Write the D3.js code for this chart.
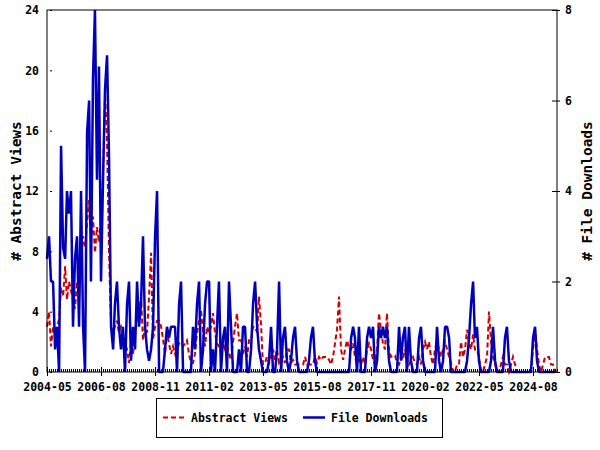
<!DOCTYPE html>
<html>
<head>
<meta charset="utf-8">
<script src="https://cdn.jsdelivr.net/npm/d3@7"></script>
<style>
  body { margin: 0; background: #fff; }
  svg text { font-family: "DejaVu Sans Mono", "Liberation Mono", monospace; font-weight: bold; }
</style>
</head>
<body>
<svg id="chart" width="600" height="450"></svg>
<script>
// monthly series, first month 2004-05
var firstMonth = "2004-05";
var lastMonth = "2025-08";
var tickLabels = ["2004-05", "2006-08", "2008-11", "2011-02", "2013-05",
    "2015-08", "2017-11", "2020-02", "2022-05", "2024-08"];
var leftTicks = [0, 4, 8, 12, 16, 20, 24];
var rightTicks = [0, 2, 4, 6, 8];
var seriesNames = ["Abstract Views", "File Downloads"];

var abstractViews = [
    3, 4, 1.7, 3, 2.5, 3, 3.5, 5.6, 5, 7,
    4.8, 6, 5.4, 4.8, 4.2, 6, 5, 7.5, 9, 8.3,
    9.9, 11.4, 8.8, 10.3, 7.9, 9.6, 8.6, 10, 13.2, 18.5,
    15.2, 7.9, 3, 2.6, 3, 3.4, 2.6, 3, 2.5, 1.9,
    1.5, 0.6, 1.9, 1.2, 2.5, 3.6, 4, 5, 2.1, 3,
    2.6, 5, 7.9, 2.2, 3, 3.4, 3.4, 3, 2.2, 1.2,
    2.6, 1.9, 1.2, 1.7, 1.2, 1.5, 1.9, 1.9, 1.7, 1.9,
    2.1, 1.2, 0.6, 0.6, 1.2, 2.6, 3.4, 4.1, 2.6, 1.7,
    3, 2.6, 3, 3.9, 2.6, 1.9, 1.7, 1.2, 1.9, 1.5,
    1.7, 1.2, 0.8, 2, 3, 3.9, 2.1, 2.1, 1.2, 1.7,
    1, 2.1, 2.1, 3, 3, 2.6, 5, 3.2, 0.5, 0.6,
    1, 0.6, 1, 1.5, 0.8, 1.5, 0.6, 0.8, 1, 0.6,
    1.5, 1.5, 0.6, 0.8, 0.5, 0.5, 0.5, 0.5, 0.5, 1,
    0.5, 0.5, 0.5, 0.5, 1, 0.6, 1, 0.8, 1, 1,
    1, 0.8, 0.5, 1, 1.9, 2.8, 5, 1.5, 0.8, 1.5,
    2.1, 1.5, 1.5, 1.9, 1, 0.5, 0.8, 0.5, 1, 0.5,
    1.5, 1.9, 1.5, 0.8, 0.5, 1.5, 3.9, 2.8, 1.9, 1.5,
    3.9, 1.5, 1, 1.1, 1.1, 0.6, 0.5, 1, 0.8, 1.5,
    1, 0.5, 0.8, 1, 0.6, 0.5, 1, 0.5, 1.5, 2,
    1.5, 2, 1, 0.5, 1.5, 2, 1.5, 1, 1.5, 2,
    1.5, 1, 0.6, 0, 0, 0.5, 0.5, 2, 1, 1.5,
    2.8, 1.9, 1.5, 2.5, 1.5, 1.5, 1, 0, 0, 0.5,
    1, 4, 2, 1, 0.5, 0, 0, 0.5, 1, 0.5,
    0.5, 0, 0.5, 1, 0.5, 0, 0, 0, 0, 0,
    0, 0, 0, 1.5, 2.8, 1.5, 0.5, 0, 0.5, 1,
    1, 1, 0.5, 0.5, 0
];

var fileDownloads = [
    2.5, 3, 2, 2, 0.5, 1, 0, 5, 2.75, 2.5,
    4, 3.5, 4, 1, 2.5, 3, 1, 4, 1, 0,
    5.3, 6, 2, 6.5, 8, 4.25, 6.75, 2, 4.25, 6.25,
    7, 4.75, 1, 0.5, 1.5, 2, 1, 0.5, 1, 0,
    1.5, 2, 0.25, 1, 0.5, 2, 1, 1.5, 3, 1,
    0.5, 0.25, 0.5, 1, 3, 4, 0, 0, 0, 0.5,
    1, 0.75, 1, 1, 1, 0, 1.5, 2, 0, 0,
    0, 0, 0, 1, 0.5, 1.5, 2, 0, 0.5, 1.5,
    2, 2, 0, 0.5, 0, 1, 2, 0, 0.75, 1,
    0, 2, 1, 0, 0, 0, 0.5, 0, 1, 1,
    0, 0, 0.5, 1.5, 2, 1, 0.5, 0.25, 0, 0,
    0, 0.25, 1, 0, 0, 0.5, 2, 0, 0.75, 1,
    0.25, 0, 0.25, 0.75, 1, 0.25, 0, 0, 0, 0,
    0, 0.25, 0.75, 1, 0.25, 0, 0, 0, 0, 0,
    0, 0, 0, 0, 0, 0, 0, 0, 0, 0,
    0, 0, 0.75, 1, 0.75, 0, 1, 0, 0, 0,
    0.75, 1, 0.75, 1, 0, 0.25, 1, 0.75, 1, 0.75,
    1, 0.25, 0, 0, 0, 0, 1, 0.25, 0.75, 1,
    0, 1, 0.25, 0, 0, 0, 0.75, 1, 0.25, 0,
    0, 0, 0, 0, 0, 1, 0.25, 0, 0.25, 1,
    1, 0.75, 0, 0, 0, 0, 0, 0, 0, 0,
    0.25, 0.75, 1.5, 2, 0.75, 1, 0.25, 0, 0, 0,
    0, 0, 0.25, 1, 0.25, 0, 0, 0, 0, 0.75,
    1, 0.25, 0, 0, 0, 0, 0, 0, 0, 0,
    0, 0, 0, 0.75, 1, 0.25, 0, 0, 0, 0,
    0, 0, 0, 0, 0
];

var parseMonth = d3.timeParse("%Y-%m");
var start = parseMonth(firstMonth);

var margin = { top: 10, right: 43, bottom: 78, left: 47 },
    width = 600 - margin.left - margin.right,
    height = 450 - margin.top - margin.bottom;

var svg = d3.select("#chart");
var g = svg.append("g")
    .attr("transform", "translate(" + margin.left + "," + margin.top + ")");

var x = d3.scaleTime()
    .domain([start, parseMonth(lastMonth)])
    .range([0, width]);
var yLeft = d3.scaleLinear().domain([0, 24]).range([height, 0]);
var yRight = d3.scaleLinear().domain([0, 8]).range([height, 0]);

var views = abstractViews.map(function (v, i) { return { date: d3.timeMonth.offset(start, i), value: v }; });
var downloads = fileDownloads.map(function (v, i) { return { date: d3.timeMonth.offset(start, i), value: v }; });

// lines
g.append("path")
    .datum(views)
    .attr("fill", "none")
    .attr("stroke", "#cc0000")
    .attr("stroke-width", 2)
    .attr("stroke-dasharray", "5,3")
    .attr("d", d3.line().x(function (d) { return x(d.date); }).y(function (d) { return yLeft(d.value); }));

g.append("path")
    .datum(downloads)
    .attr("fill", "none")
    .attr("stroke", "#0000bb")
    .attr("stroke-width", 2.5)
    .attr("stroke-linejoin", "bevel")
    .attr("d", d3.line().x(function (d) { return x(d.date); }).y(function (d) { return yRight(d.value); }));

// frame
g.append("rect")
    .attr("width", width).attr("height", height)
    .attr("fill", "none").attr("stroke", "#000").attr("stroke-width", 1);

// left axis
var leftAxis = g.append("g")
    .call(d3.axisLeft(yLeft).tickValues(leftTicks).tickSizeInner(-5).tickSizeOuter(0).tickPadding(8));
leftAxis.selectAll(".tick line").attr("x1", 3);
leftAxis.select(".domain").remove();
leftAxis.selectAll("text").style("font-size", "11.5px").attr("fill", "#000");

// right axis
var rightAxis = g.append("g")
    .attr("transform", "translate(" + width + ",0)")
    .call(d3.axisRight(yRight).tickValues(rightTicks).tickSizeInner(-5).tickSizeOuter(0).tickPadding(8));
rightAxis.selectAll(".tick line").attr("x1", 3);
rightAxis.select(".domain").remove();
rightAxis.selectAll("text").style("font-size", "11.5px").attr("fill", "#000");

// bottom axis: monthly minor ticks, labelled major ticks
var monthTicks = d3.timeMonth.range(start, d3.timeMonth.offset(parseMonth(lastMonth), 1));
var minorAxis = g.append("g")
    .attr("transform", "translate(0," + height + ")")
    .call(d3.axisBottom(x).tickValues(monthTicks).tickSizeInner(-3).tickSizeOuter(0).tickFormat(""));
minorAxis.select(".domain").remove();

var majorAxis = g.append("g")
    .attr("transform", "translate(0," + height + ")")
    .call(d3.axisBottom(x).tickValues(tickLabels.map(parseMonth))
        .tickSizeInner(4).tickSizeOuter(0).tickPadding(7).tickFormat(d3.timeFormat("%Y-%m")));
majorAxis.select(".domain").remove();
majorAxis.selectAll(".tick line").attr("y1", -5);
majorAxis.selectAll("text").style("font-size", "11.5px").attr("fill", "#000");

// axis titles
svg.append("text")
    .attr("transform", "translate(21," + (margin.top + height / 2) + ") rotate(-90)")
    .attr("text-anchor", "middle")
    .style("font-size", "14.5px")
    .text("# Abstract Views");
svg.append("text")
    .attr("transform", "translate(592," + (margin.top + height / 2) + ") rotate(-90)")
    .attr("text-anchor", "middle")
    .style("font-size", "14.5px")
    .text("# File Downloads");

// legend
var legend = svg.append("g");
legend.append("rect")
    .attr("x", 156.5).attr("y", 398.5).attr("width", 286).attr("height", 39)
    .attr("fill", "#fff").attr("stroke", "#000");
legend.append("line")
    .attr("x1", 163).attr("x2", 184).attr("y1", 417.5).attr("y2", 417.5)
    .attr("stroke", "#cc0000").attr("stroke-width", 2).attr("stroke-dasharray", "5,3");
legend.append("text").attr("x", 191).attr("y", 422)
    .style("font-size", "11.5px").text(seriesNames[0]);
legend.append("line")
    .attr("x1", 303).attr("x2", 325).attr("y1", 417.5).attr("y2", 417.5)
    .attr("stroke", "#0000bb").attr("stroke-width", 2.5);
legend.append("text").attr("x", 331).attr("y", 422)
    .style("font-size", "11.5px").text(seriesNames[1]);
</script>
</body>
</html>
